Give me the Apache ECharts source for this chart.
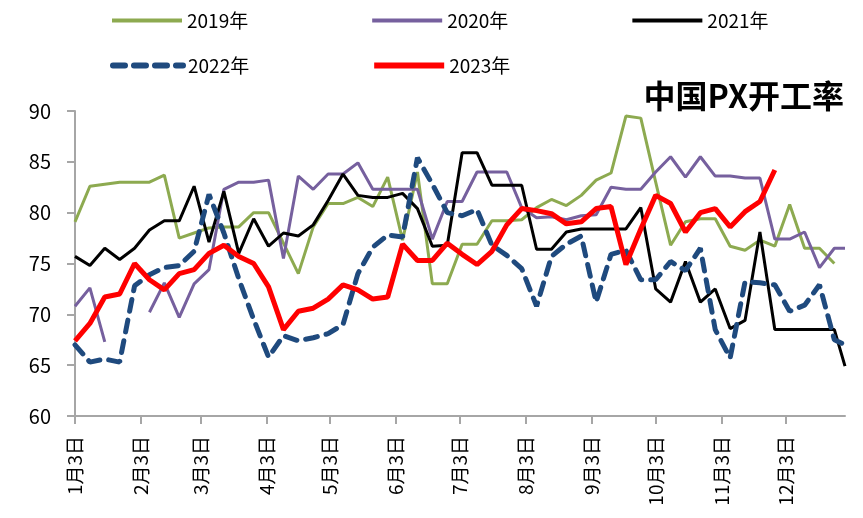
<!DOCTYPE html>
<html>
<head>
<meta charset="utf-8">
<script src="https://cdn.jsdelivr.net/npm/echarts@6/dist/echarts.min.js"></script>
<style>
  html, body { margin: 0; padding: 0; background: #fff; }
  #chart { width: 863px; height: 518px; }
</style>
</head>
<body>
<div id="chart"></div>
<script>
// weekly readings, week 0 = 1月3日
var v2019 = [79.1, 82.6, 82.8, 83.0, 83.0, 83.0, 83.7, 77.5, 78.0, 78.5, 78.6, 78.6, 80.0, 80.0, 77.0, 74.0,
  78.6, 80.9, 80.9, 81.5, 80.6, 83.5, 77.3, 84.0, 73.0, 73.0, 76.9, 76.9, 79.2, 79.2, 79.3, 80.5,
  81.3, 80.7, 81.7, 83.2, 83.9, 89.5, 89.3, 83.0, 76.8, 79.1, 79.4, 79.4, 76.7, 76.3, 77.3, 76.7,
  80.8, 76.5, 76.5, 75.0];
var v2020 = [70.8, 72.6, 67.3, null, null, 70.2, 73.1, 69.7, 73.0, 74.4, 82.3, 83.0, 83.0, 83.2, 75.5, 83.6,
  82.3, 83.8, 83.8, 84.9, 82.3, 82.3, 82.3, 82.3, 77.4, 81.1, 81.1, 84.0, 84.0, 84.0, 80.5, 79.5,
  79.6, 79.3, 79.7, 79.8, 82.5, 82.3, 82.3, 84.0, 85.5, 83.5, 85.5, 83.6, 83.6, 83.4, 83.4, 77.4,
  77.4, 78.1, 74.6, 76.5];
var v2021 = [75.7, 74.8, 76.5, 75.4, 76.5, 78.3, 79.2, 79.2, 82.6, 77.1, 82.1, 76.0, 79.4, 76.7, 78.0, 77.7,
  78.8, 81.2, 83.8, 81.7, 81.5, 81.5, 81.9, 80.4, 76.7, 76.8, 85.9, 85.9, 82.7, 82.7, 82.7, 76.4,
  76.4, 78.1, 78.4, 78.4, 78.4, 78.4, 80.5, 72.5, 71.2, 75.2, 71.2, 72.5, 68.6, 69.4, 78.1, 68.5,
  68.5, 68.5, 68.5, 68.5];
var v2022 = [67.0, 65.3, 65.6, 65.3, 72.8, 73.9, 74.6, 74.8, 76.2, 81.8, 78.0, 73.5, 69.5, 65.8, 67.9, 67.4,
  67.7, 68.1, 69.0, 74.0, 76.6, 77.8, 77.6, 85.4, 82.8, 80.0, 79.7, 80.3, 76.8, 75.8, 74.5, 70.8,
  75.7, 76.9, 77.7, 71.2, 75.9, 76.3, 73.4, 73.4, 75.2, 74.3, 76.5, 68.5, 65.7, 73.2, 73.1, 72.9,
  70.3, 70.9, 72.9, 67.5];
var v2023 = [67.4, 69.1, 71.7, 72.0, 75.0, 73.4, 72.4, 74.0, 74.4, 76.0, 76.8, 75.7, 75.0, 72.7, 68.5, 70.3,
  70.6, 71.5, 72.9, 72.4, 71.5, 71.7, 76.9, 75.3, 75.3, 77.0, 75.9, 74.9, 76.2, 78.8, 80.4, 80.2,
  79.9, 78.9, 79.1, 80.4, 80.6, 74.9, 78.4, 81.7, 80.9, 78.1, 80.0, 80.4, 78.6, 80.1, 81.1, 84.2];

// last reading on 12月31日 for some years
var lastDay = 362;
var tail2020 = 76.5;
var tail2021 = 64.9;
var tail2022 = 67.0;

var monthLabels = ['1月3日', '2月3日', '3月3日', '4月3日', '5月3日', '6月3日',
  '7月3日', '8月3日', '9月3日', '10月3日', '11月3日', '12月3日'];
var monthDays = [0, 31, 59, 90, 120, 151, 181, 212, 243, 273, 304, 334];

var yTicks = [60, 65, 70, 75, 80, 85, 90];

function weekly(values, tail) {
  var out = values.map(function (v, i) {
    return [i * 7, v];
  });
  if (tail != null) out.push([lastDay, tail]);
  return out;
}

var chartDom = document.getElementById('chart');
var myChart = echarts.init(chartDom, null, { renderer: 'canvas' });
var font = '"Noto Sans CJK SC", "Noto Sans", sans-serif';

var legendBase = {
  left: 105,
  itemWidth: 70,
  itemHeight: 14,
  itemGap: 122,
  itemStyle: { opacity: 0 },
  textStyle: { fontFamily: font, fontSize: 19, color: '#000' }
};

var option = {
  backgroundColor: '#fff',
  animation: false,
  title: {
    text: '中国PX开工率',
    right: 14,
    top: 75,
    textStyle: { fontFamily: font, fontSize: 32, fontWeight: 'bold', color: '#000' }
  },
  legend: [
    Object.assign({}, legendBase, {
      data: ['2019年', '2020年', '2021年'], top: 6,
      lineStyle: { width: 4 }
    }),
    Object.assign({}, legendBase, {
      data: ['2022年', '2023年'], top: 51,
      lineStyle: { width: 6 }
    })
  ],
  grid: { left: 75, right: 18, top: 111, bottom: 102 },
  xAxis: {
    type: 'value',
    min: 0,
    max: lastDay,
    splitLine: { show: false },
    axisLine: { lineStyle: { color: '#a6a6a6', width: 2 } },
    axisTick: {
      show: true,
      length: 8,
      customValues: monthDays,
      lineStyle: { color: '#a6a6a6', width: 2 }
    },
    axisLabel: {
      customValues: monthDays,
      rotate: 90,
      margin: 20,
      fontFamily: font,
      fontSize: 19,
      color: '#000',
      formatter: function (val) {
        var k = monthDays.indexOf(val);
        return k >= 0 ? monthLabels[k] : '';
      }
    }
  },
  yAxis: {
    type: 'value',
    min: yTicks[0],
    max: yTicks[yTicks.length - 1],
    interval: 5,
    splitLine: { show: false },
    axisLine: { show: true, lineStyle: { color: '#a6a6a6', width: 2 } },
    axisTick: { show: true, length: 8, lineStyle: { color: '#a6a6a6', width: 2 } },
    axisLabel: { margin: 24, fontFamily: font, fontSize: 20, color: '#000' }
  },
  series: [
    {
      name: '2019年', type: 'line', symbol: 'none',
      lineStyle: { color: '#8DAA50', width: 3 }, itemStyle: { color: '#8DAA50' },
      data: weekly(v2019)
    },
    {
      name: '2020年', type: 'line', symbol: 'none',
      lineStyle: { color: '#76609E', width: 3 }, itemStyle: { color: '#76609E' },
      data: weekly(v2020, tail2020)
    },
    {
      name: '2021年', type: 'line', symbol: 'none',
      lineStyle: { color: '#000000', width: 3 }, itemStyle: { color: '#000000' },
      data: weekly(v2021, tail2021)
    },
    {
      name: '2022年', type: 'line', symbol: 'none',
      lineStyle: { color: '#1F4A7E', width: 5, type: [12, 9], cap: 'round' },
      itemStyle: { color: '#1F4A7E' },
      data: weekly(v2022, tail2022)
    },
    {
      name: '2023年', type: 'line', symbol: 'none',
      lineStyle: { color: '#FF0000', width: 5 }, itemStyle: { color: '#FF0000' },
      data: weekly(v2023)
    }
  ]
};

myChart.setOption(option);
window.addEventListener('resize', myChart.resize);
</script>
</body>
</html>
